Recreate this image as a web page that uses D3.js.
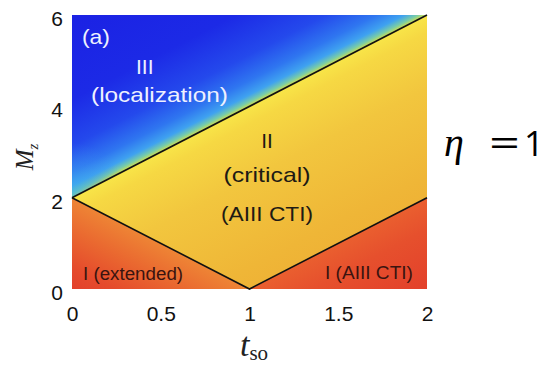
<!DOCTYPE html>
<html>
<head>
<meta charset="utf-8">
<script src="https://cdn.jsdelivr.net/npm/d3@7"></script>
<style>
  body { margin: 0; background: #fff; }
  svg { display: block; }
</style>
</head>
<body>
<div id="chart"></div>
<script>
// axis ticks
var xTicks = [0, 0.5, 1, 1.5, 2];
var yTicks = [0, 2, 4, 6];

// phase boundaries (t_so, M_z)
var upperBoundary = [[0, 2], [2, 6]];
var lowerBoundary = [[0, 2], [1, 0], [2, 2]];

// phase regions, corners in data coords
var regionIII = [[0, 2], [0, 6], [2, 6]];
var regionII = [[0, 2], [2, 6], [2, 2], [1, 0]];
var regionIleft = [[0, 0], [0, 2], [1, 0]];
var regionIright = [[1, 0], [2, 2], [2, 0]];

// annotations placed in data coords
var labelText = ["(a)", "III", "(localization)", "II", "(critical)", "(AIII CTI)", "I (extended)", "I (AIII CTI)"];
var labelX = [0.135, 0.41, 0.493, 1.099, 1.099, 1.099, 0.344, 1.673];
var labelY = [5.54, 4.88, 4.25, 3.26, 2.5, 1.66, 0.33, 0.35];

var W = 557, H = 376;
var margin = {top: 15, right: 130, bottom: 87, left: 72};
var width = W - margin.left - margin.right,
    height = H - margin.top - margin.bottom;

var svg = d3.select("#chart").append("svg")
    .attr("width", W).attr("height", H);
var defs = svg.append("defs");

var x = d3.scaleLinear().domain([0, 2]).range([0, width]);
var y = d3.scaleLinear().domain([0, 6]).range([height, 0]);

var g = svg.append("g")
    .attr("transform", "translate(" + margin.left + "," + margin.top + ")");

function px(p) { return [x(p[0]), y(p[1])]; }

// gradient perpendicular to a boundary segment
function perpGradient(id, seg, len, flip, stops) {
  var a = px(seg[0]), b = px(seg[1]);
  var dx = b[0] - a[0], dy = b[1] - a[1];
  var l = Math.sqrt(dx * dx + dy * dy);
  var nx = -dy / l * flip, ny = dx / l * flip;
  var mx = (a[0] + b[0]) / 2, my = (a[1] + b[1]) / 2;
  var grad = defs.append("linearGradient").attr("id", id)
      .attr("gradientUnits", "userSpaceOnUse")
      .attr("x1", mx).attr("y1", my)
      .attr("x2", mx + nx * len).attr("y2", my + ny * len);
  stops.forEach(function(s) {
    grad.append("stop").attr("offset", s[0]).attr("stop-color", s[1]);
  });
}

perpGradient("gBlue", upperBoundary, 230, -1, [
  [0, "#d4e04c"], [0.018, "#78cca8"], [0.045, "#3fa2f0"], [0.1, "#2f76f0"],
  [0.2, "#2449ec"], [0.38, "#1c2ae6"], [1, "#1a1ae2"]]);
perpGradient("gYellow", upperBoundary, 260, 1, [
  [0, "#f8e548"], [0.06, "#f6d843"], [0.25, "#f2c63e"], [0.55, "#efb637"], [1, "#eca32f"]]);
perpGradient("gRedL", [lowerBoundary[0], lowerBoundary[1]], 95, 1, [
  [0, "#ee8535"], [0.3, "#ea6a30"], [0.65, "#e54b2c"], [1, "#e1382a"]]);
perpGradient("gRedR", [lowerBoundary[1], lowerBoundary[2]], 95, 1, [
  [0, "#ea5f2f"], [0.3, "#e6502d"], [1, "#e23c2a"]]);

var glow = defs.append("radialGradient").attr("id", "gGlow")
    .attr("gradientUnits", "userSpaceOnUse")
    .attr("cx", x(0)).attr("cy", y(2)).attr("r", 55);
glow.append("stop").attr("offset", 0).attr("stop-color", "#40b8ec").attr("stop-opacity", 0.7);
glow.append("stop").attr("offset", 1).attr("stop-color", "#3a8cf0").attr("stop-opacity", 0);

var poly = d3.line().x(function(d) { return x(d[0]); }).y(function(d) { return y(d[1]); });

g.append("path").attr("d", poly(regionIII) + "Z").attr("fill", "url(#gBlue)");
g.append("path").attr("d", poly(regionIII) + "Z").attr("fill", "url(#gGlow)");
g.append("path").attr("d", poly(regionII) + "Z").attr("fill", "url(#gYellow)");
g.append("path").attr("d", poly(regionIleft) + "Z").attr("fill", "url(#gRedL)");
g.append("path").attr("d", poly(regionIright) + "Z").attr("fill", "url(#gRedR)");

[upperBoundary, lowerBoundary].forEach(function(b) {
  g.append("path").attr("d", poly(b))
      .attr("fill", "none").attr("stroke", "#111").attr("stroke-width", 1.6);
});

// region labels
var labelFill = ["#eef0ff", "#eef0ff", "#eef0ff", "#1e1a14", "#1e1a14", "#1e1a14", "#3a1410", "#3a1410"];
var labelSize = [21, 21, 21, 21, 21, 21, 18, 18];
var labelLen = [28, null, 137, null, 87, 92, 100, 88];
labelText.forEach(function(t, i) {
  var tx = g.append("text")
      .attr("x", x(labelX[i])).attr("y", y(labelY[i]))
      .attr("dy", "0.36em")
      .attr("text-anchor", "middle")
      .attr("font-family", "'Liberation Sans', Arial, sans-serif")
      .attr("font-size", labelSize[i] + "px")
      .attr("fill", labelFill[i])
      .text(t);
  if (labelLen[i]) tx.attr("textLength", labelLen[i]).attr("lengthAdjust", "spacingAndGlyphs");
});

// axes (labels only, no tick marks)
var fmt = function(d) { return d; };
var xAxis = g.append("g")
    .attr("transform", "translate(0," + height + ")")
    .call(d3.axisBottom(x).tickValues(xTicks).tickSize(0).tickPadding(17).tickFormat(fmt));
var yAxis = g.append("g")
    .call(d3.axisLeft(y).tickValues(yTicks).tickSize(0).tickPadding(9).tickFormat(fmt));
[xAxis, yAxis].forEach(function(a) {
  a.select(".domain").remove();
  a.selectAll("text")
      .attr("font-family", "'Liberation Sans', Arial, sans-serif")
      .attr("font-size", "21px")
      .attr("fill", "#111");
});
yAxis.selectAll("text").attr("dy", "0.5em");

// axis titles
var mz = svg.append("text")
    .attr("transform", "translate(33,157) rotate(-90)")
    .attr("text-anchor", "middle")
    .attr("font-family", "'Liberation Serif', 'Times New Roman', serif")
    .attr("fill", "#222");
mz.append("tspan").attr("font-style", "italic").attr("font-size", "25px").text("M");
mz.append("tspan").attr("font-style", "italic").attr("font-size", "15px").attr("dy", 5).text("z");

var tso = svg.append("text")
    .attr("x", 254).attr("y", 356)
    .attr("text-anchor", "middle")
    .attr("font-family", "'Liberation Serif', 'Times New Roman', serif")
    .attr("fill", "#222");
tso.append("tspan").attr("font-style", "italic").attr("font-size", "34px").text("t");
tso.append("tspan").attr("font-size", "21px").attr("dy", 4).text("so");

// eta annotation
svg.append("text")
    .attr("x", 444).attr("y", 156)
    .attr("font-family", "'Liberation Serif', 'Times New Roman', serif")
    .attr("font-style", "italic")
    .attr("font-size", "40px")
    .attr("fill", "#000")
    .text("η");
svg.append("text")
    .attr("x", 489).attr("y", 156)
    .attr("font-family", "'Open Sans', 'Noto Sans', sans-serif")
    .attr("font-size", "36px")
    .attr("textLength", 31).attr("lengthAdjust", "spacingAndGlyphs")
    .attr("fill", "#000")
    .text("=");
svg.append("text")
    .attr("x", 524).attr("y", 156)
    .attr("font-family", "'Open Sans', 'Noto Sans', sans-serif")
    .attr("font-size", "35px")
    .attr("fill", "#000")
    .text("1");
</script>
</body>
</html>
